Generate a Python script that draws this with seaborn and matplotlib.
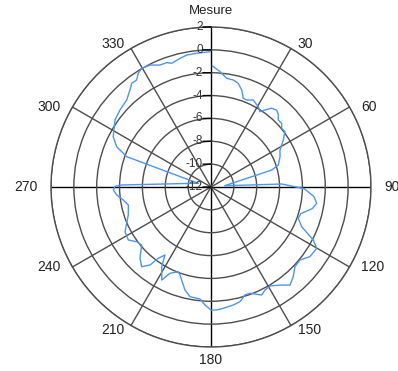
import numpy as np
import pandas as pd
import seaborn as sns
import matplotlib.pyplot as plt
import matplotlib.transforms as mtrans

# angle (deg, clockwise from top) and measured level
angles = [0.6, 4.5, 8.2, 11.8, 14.7, 17.6, 20.0, 22.3, 25.9, 30.5, 33.0, 35.0,
          37.6, 40.5, 43.1, 45.1, 48.0, 50.3, 53.2, 57.0, 61.8, 66.3, 71.9, 74.4,
          84.7, 87.6, 91.0, 95.3, 98.8, 102.0, 106.5, 109.7, 113.6, 117.4, 120.1,
          125.1, 129.4, 133.5, 137.5, 141.1, 144.9, 149.2, 152.3, 154.9, 159.9,
          162.5, 165.8, 169.3, 174.2, 177.3, 180.0, 182.9, 185.6, 190.8, 194.2,
          199.4, 201.1, 205.4, 207.9, 211.7, 214.1, 216.5, 218.0, 221.0, 224.9,
          230.1, 233.6, 237.3, 242.5, 251.3, 257.7, 261.6, 265.2, 268.2, 270.4,
          271.3, 283.0, 286.0, 289.8, 293.1, 297.2, 304.9, 310.2, 315.9, 320.1,
          322.6, 325.2, 327.4, 329.7, 333.4, 337.3, 340.4, 342.4, 346.5, 349.6,
          353.9, 359.6]
mesure = [-1.39, -1.88, -2.39, -2.44, -2.62, -3.1, -3.74, -3.77, -3.54, -3.85, -4.14, -3.77,
          -3.3, -3.15, -3.37, -3.69, -3.68, -3.96, -3.92, -4.46, -5.15, -5.4, -5.8, -6.49,
          -10.8, -5.8, -3.85, -2.95, -2.64, -2.93, -3.8, -3.89, -3.34, -1.92, -1.31,
          -1.41, -1.93, -1.87, -1.35, -0.98, -1.51, -1.92, -1.82, -1.56, -2.1,
          -2.1, -1.65, -1.49, -1.33, -1.23, -1.23, -1.66, -2.15, -2.23, -2.71,
          -3.84, -4.06, -3.64, -2.79, -3.8, -4.82, -4.24, -3.34, -2.76, -3.2,
          -4.09, -3.93, -3.41, -3.52, -4.36, -4.6, -4.24, -3.72, -3.45, -3.6,
          -4.19, -10.56, -10.84, -4.16, -3.03, -2.38, -1.76, -1.57, -1.4, -0.94,
          -0.58, -0.6, -0.19, 0.02, -0.07, -0.43, -0.45, -0.64, -0.42, -0.26,
          -0.23, -0.16]

r_ticks = [-12, -10, -8, -6, -4, -2, 0, 2]
theta_ticks = list(range(0, 360, 30))
theta_labels = ['' if t == 0 else str(t) for t in theta_ticks]

df = pd.DataFrame({'theta': np.deg2rad(angles), 'r': mesure})

sns.set_style('white')
plt.rcParams['font.family'] = ['Liberation Sans', 'DejaVu Sans']

fig = plt.figure(figsize=(3.98, 3.71), dpi=100)
ax = fig.add_axes([0.1281, 0.0647, 0.804, 0.8625], projection='polar')
ax.set_theta_zero_location('N')
ax.set_theta_direction(-1)

sns.lineplot(data=df, x='theta', y='r', sort=False, estimator=None,
             color='#4f95ee', lw=1.0, ax=ax)
ax.set_xlabel('')
ax.set_ylabel('')

ax.set_ylim(-12, 2)
ax.set_yticks(r_ticks)
ax.set_yticklabels([])
ax.set_thetagrids(theta_ticks, theta_labels, fontsize=10, color='#222222')
ax.tick_params(axis='x', pad=2.5, length=0)
ax.grid(True, color='#4d4d4d', lw=1)
ax.spines['polar'].set_color('#4d4d4d')
ax.spines['polar'].set_linewidth(1)
for t, gl in zip(theta_ticks, ax.xaxis.get_gridlines()):
    if t % 90 == 0:
        gl.set_color('black')
# side labels hug the circle like the original chart
for t, tk in zip(theta_ticks, ax.xaxis.get_major_ticks()):
    if 0 < t < 180:
        tk.label1.set_ha('left')
    elif t > 180:
        tk.label1.set_ha('right')
    if t in (30, 60, 300, 330):
        tk.label1.set_va('top')
    elif t in (120, 150, 210, 240):
        tk.label1.set_va('bottom')

# radial labels along the 0 direction
offs = mtrans.offset_copy(ax.transData, fig=fig, x=-8, y=0, units='dots')
for v in r_ticks:
    ax.text(0, v, str(v), transform=offs, ha='right', va='center',
            fontsize=8.5, color='#333333')
    ax.annotate('', xy=(0, v), xytext=(-8, 0), textcoords='offset pixels',
                arrowprops=dict(arrowstyle='-', color='black', lw=1,
                                shrinkA=0, shrinkB=0))

fig.text(0.530, 0.970, 'Mesure', ha='center', va='center',
         fontsize=9.5, color='#222222')

fig.savefig('out.png', dpi=100)
